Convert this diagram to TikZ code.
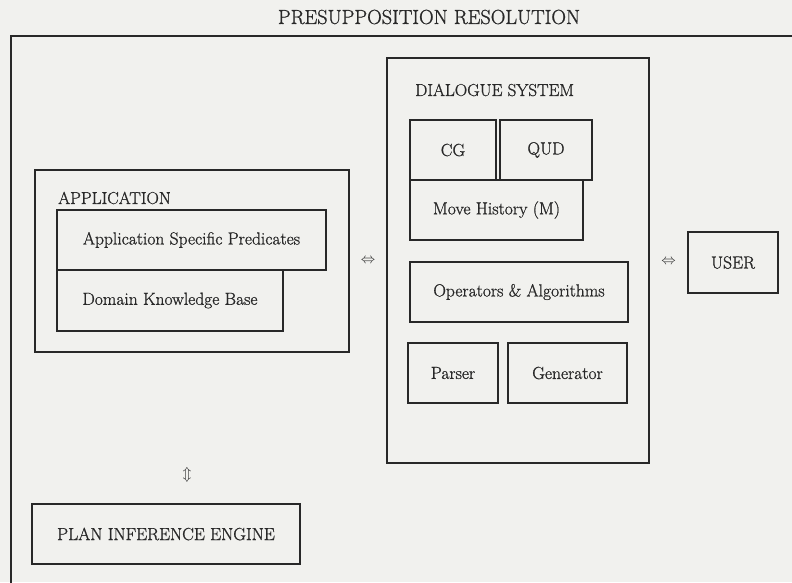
\documentclass[tikz,border=0pt]{standalone}
\usepackage{amssymb}
\usepackage{fontspec}
\newfontfamily\thickrm[FakeBold=1]{Latin Modern Roman}
\definecolor{paper}{RGB}{241,241,238}
\definecolor{ink}{RGB}{40,40,40}
\begin{document}
\begin{tikzpicture}[x=1pt,y=-1pt,
  box/.style={draw=ink,line width=1.2pt,inner sep=0pt,text=ink,font=\thickrm\fontsize{17.5}{20}\selectfont},
  lbl/.style={inner sep=0pt,text=ink,font=\thickrm\fontsize{17.2}{20}\selectfont},
  sym/.style={inner sep=0pt,text=ink,font=\fontsize{14}{16}\selectfont}]
\fill[paper] (0,0) rectangle (792,582);
\useasboundingbox (0,0) rectangle (792,582);
\clip (0,0) rectangle (792,582);
\node[lbl,font=\thickrm\fontsize{20.3}{22}\selectfont] (title) at (429,17) {PRESUPPOSITION RESOLUTION};
\node[box,minimum width=820pt,minimum height=600pt] (outer) at (421,336) {};
% dialogue system
\node[box,minimum width=262pt,minimum height=405pt] (ds) at (518,260.5) {};
\node[lbl,anchor=west] (dstitle) at (415,90) {DIALOGUE SYSTEM};
\node[box,minimum width=86pt,minimum height=60pt] (cg) at (453,150) {CG};
\node[box,minimum width=92pt,minimum height=60pt] (qud) at (546,150) {QUD};
\node[box,minimum width=173pt,minimum height=60pt] (mh) at (496.5,210) {Move History (M)};
\node[box,minimum width=218pt,minimum height=60pt] (ops) at (519,292) {Operators \& Algorithms};
\node[box,minimum width=90pt,minimum height=60pt] (parser) at (453,373) {Parser};
\node[box,minimum width=119pt,minimum height=60pt] (gen) at (567.5,373) {Generator};
% user
\node[box,minimum width=90pt,minimum height=61pt] (user) at (733,262.5) {USER};
% application
\node[box,minimum width=314pt,minimum height=182pt] (app) at (192,261) {};
\node[lbl,anchor=west] (apptitle) at (58,198) {APPLICATION};
\node[box,minimum width=269pt,minimum height=60pt] (asp) at (191.5,240) {Application Specific Predicates};
\node[box,minimum width=226pt,minimum height=61pt] (dkb) at (170,300.5) {Domain Knowledge Base};
% plan inference engine
\node[box,minimum width=268pt,minimum height=60pt] (pie) at (166,534) {PLAN INFERENCE ENGINE};
% connectors
\path (app) -- node[sym] (a1) {$\Leftrightarrow$} (ds);
\path (ds) -- node[sym] (a2) {$\Leftrightarrow$} (user);
\node[sym] (a3) at (187,475) {$\Updownarrow$};
\end{tikzpicture}
\end{document}
